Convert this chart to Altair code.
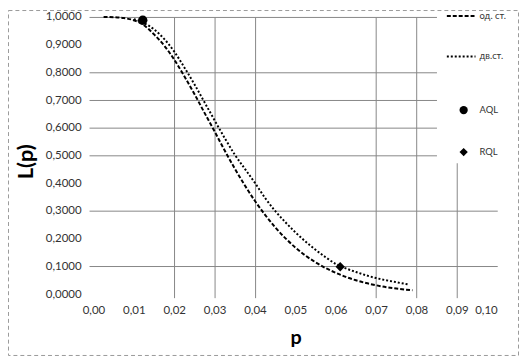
import altair as alt
import pandas as pd

# ---- data ----
SERIES = ["од. ст.", "дв.ст."]

P_SINGLE = [0.0025, 0.005, 0.0075, 0.01, 0.0125, 0.015, 0.0175, 0.02, 0.0225, 0.025,
            0.0275, 0.03, 0.0325, 0.035, 0.0375, 0.04, 0.0425, 0.045, 0.0475, 0.05,
            0.0525, 0.055, 0.0575, 0.06, 0.0625, 0.065, 0.0675, 0.07, 0.0725, 0.075,
            0.0775, 0.079]
L_SINGLE = [1.000, 0.999, 0.996, 0.988, 0.970, 0.937, 0.897, 0.846, 0.786, 0.722,
            0.654, 0.587, 0.518, 0.453, 0.392, 0.336, 0.286, 0.241, 0.202, 0.168,
            0.139, 0.115, 0.094, 0.077, 0.062, 0.050, 0.040, 0.032, 0.025, 0.020,
            0.016, 0.014]

P_DOUBLE = [0.01, 0.0125, 0.015, 0.0175, 0.02, 0.0225, 0.025, 0.0275, 0.03, 0.0325,
            0.035, 0.0375, 0.04, 0.0425, 0.045, 0.0475, 0.05, 0.0525, 0.055, 0.0575,
            0.06, 0.0625, 0.065, 0.0675, 0.07, 0.0725, 0.075, 0.078]
L_DOUBLE = [0.992, 0.978, 0.955, 0.921, 0.875, 0.818, 0.757, 0.692, 0.627, 0.563,
            0.503, 0.452, 0.401, 0.347, 0.300, 0.260, 0.223, 0.190, 0.160, 0.133,
            0.109, 0.093, 0.080, 0.068, 0.058, 0.050, 0.043, 0.035]

POINT_NAMES = ["AQL", "RQL"]
POINT_P = [0.0122, 0.0611]
POINT_L = [0.988, 0.099]

X_TICKS = [0.0, 0.01, 0.02, 0.03, 0.04, 0.05, 0.06, 0.07, 0.08, 0.09, 0.1]
Y_TICKS = [0.0, 0.1, 0.2, 0.3, 0.4, 0.5, 0.6, 0.7, 0.8, 0.9, 1.0]
X_GRID_HUNDREDTHS = [2, 3, 4, 7, 8, 9]      # visible vertical gridlines
Y_GRID_TENTHS = [1, 3, 5, 6, 7, 8, 10]      # visible horizontal gridlines

# ---- tables ----
lines = pd.DataFrame({
    "p": P_SINGLE + P_DOUBLE,
    "L": L_SINGLE + L_DOUBLE,
    "series": [SERIES[0]] * len(P_SINGLE) + [SERIES[1]] * len(P_DOUBLE),
})
points = pd.DataFrame({"p": POINT_P, "L": POINT_L, "name": POINT_NAMES})
one = pd.DataFrame({"a": [0]})

FONT = "Lato"
GRID = "#878787"
TXT = "#333333"

x_grid_test = "indexof([%s], round(datum.value*100)) >= 0" % ",".join(str(v) for v in X_GRID_HUNDREDTHS)
y_grid_test = "indexof([%s], round(datum.value*10)) >= 0" % ",".join(str(v) for v in Y_GRID_TENTHS)

X_AXIS = alt.Axis(
    values=X_TICKS,
    labelExpr="replace(format(datum.value, '.2f'), '.', ',')",
    title="p",
    grid=True,
    gridColor=GRID,
    gridOpacity={"condition": {"test": x_grid_test, "value": 1}, "value": 0},
    domain=False,
    ticks=False,
    labelPadding=7,
    labelFont=FONT,
    labelFontSize=11.6,
    labelColor=TXT,
    labelOverlap=False,
    titleFont=FONT,
    titleFontSize=20,
    titleFontWeight="bold",
    titleColor="black",
    titleX=209,
    titleY=46,
    titleBaseline="alphabetic",
    titleAlign="center",
)
Y_AXIS = alt.Axis(
    values=Y_TICKS,
    labelExpr="replace(format(datum.value, '.4f'), '.', ',')",
    title="L(p)",
    grid=True,
    gridColor=GRID,
    gridOpacity={"condition": {"test": y_grid_test, "value": 1}, "value": 0},
    domain=False,
    ticks=False,
    labelPadding=8,
    labelFont=FONT,
    labelFontSize=11.6,
    labelColor=TXT,
    labelOverlap=False,
    titleFont=FONT,
    titleFontSize=22,
    titleFontWeight="bold",
    titleColor="black",
    titleAngle=270,
    titleX=-64.5,
    titleY=146,
    titleBaseline="middle",
    titleAlign="center",
)
X_SCALE = alt.Scale(domain=[-0.0011, 0.1], nice=False, zero=False)
Y_SCALE = alt.Scale(domain=[-0.0127, 1.0], nice=False, zero=False)

# white area behind the legend
legend_bg = alt.Chart(one).mark_rect(fill="white").encode(
    x=alt.value(352), x2=alt.value(430), y=alt.value(-4), y2=alt.value(148)
)

line_layer = alt.Chart(lines).mark_line(
    color="black", strokeWidth=2, interpolate="monotone"
).encode(
    x=alt.X("p:Q", scale=X_SCALE, axis=X_AXIS),
    y=alt.Y("L:Q", scale=Y_SCALE, axis=Y_AXIS),
    strokeDash=alt.StrokeDash(
        "series:N",
        scale=alt.Scale(domain=SERIES, range=[[4, 2], [2, 2]]),
        legend=alt.Legend(
            orient="none", legendX=361, legendY=-16.5, title=None,
            symbolType="stroke", symbolSize=841, symbolStrokeWidth=2,
            symbolStrokeColor="black", labelFont=FONT, labelFontSize=9.5,
            labelColor=TXT, labelOffset=3, rowPadding=21, padding=0,
        ),
    ),
    detail="series:N",
)

point_layer = alt.Chart(points).mark_point(
    filled=True, color="black", opacity=1, size=90
).encode(
    x=alt.X("p:Q", scale=X_SCALE, axis=X_AXIS),
    y=alt.Y("L:Q", scale=Y_SCALE, axis=Y_AXIS),
    shape=alt.Shape(
        "name:N",
        scale=alt.Scale(domain=POINT_NAMES, range=["circle", "diamond"]),
        legend=alt.Legend(
            orient="none", legendX=374, legendY=89.25, title=None,
            symbolSize=70, symbolFillColor="black", symbolStrokeColor="black",
            symbolOpacity=1, labelFont=FONT, labelFontSize=9.5,
            labelColor=TXT, labelOffset=11, rowPadding=26.5, padding=0,
        ),
    ),
)

border = alt.Chart(one).mark_rect(
    fillOpacity=0, stroke="#9a9a9a", strokeWidth=1, strokeDash=[4, 3]
).encode(
    x=alt.value(-81.5), x2=alt.value(434.5), y=alt.value(-6.5), y2=alt.value(342.5)
)

chart = alt.layer(legend_bg, line_layer, point_layer, border).properties(
    width=413,
    height=284,
    padding={"left": 82, "top": 7, "right": 22, "bottom": 59},
    autosize=alt.AutoSizeParams(type="none"),
    background="white",
).configure_view(stroke="transparent")

chart.save("out.html", embed_options={"renderer": "svg", "actions": False})
